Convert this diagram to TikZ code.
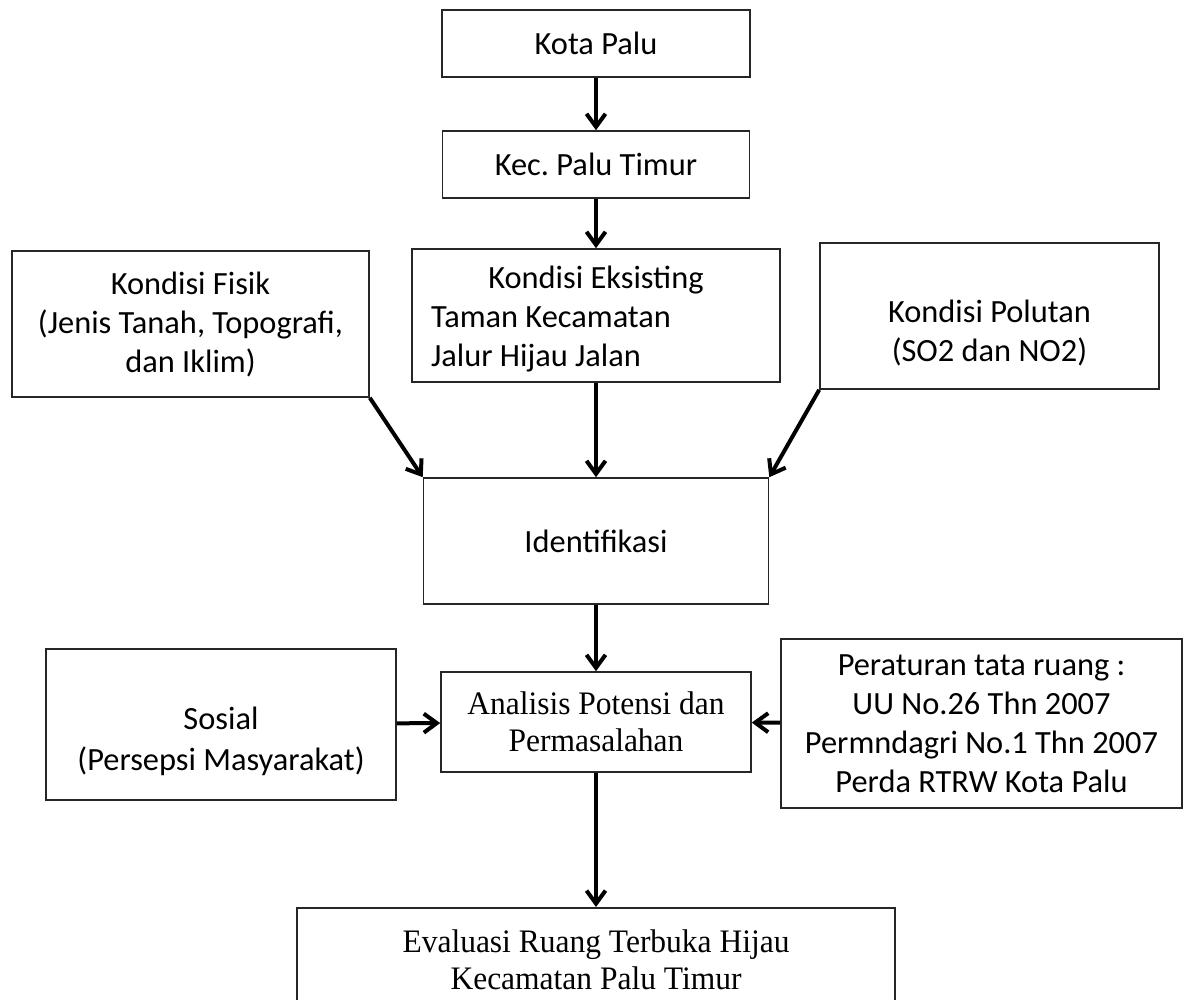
\documentclass[tikz,border=0pt]{standalone}
\usepackage{fontspec}
\setmainfont{Carlito}
\newfontfamily\timesfont[FakeStretch=0.96]{Liberation Serif}
\usetikzlibrary{arrows.meta}
\tikzset{
    kotak/.style={draw=black!85, line width=0.8pt, inner sep=0pt, align=center,
        font=\fontsize{16.2}{19.5}\selectfont},
    kotakserif/.style={kotak, font=\timesfont\fontsize{16.4}{18.5}\selectfont},
    panah/.style={-{Straight Barb[length=6.5pt,width=9.5pt]}, line width=2pt},
}

\begin{document}
\begin{tikzpicture}[x=0.5pt,y=-0.5pt]
    \clip (0,0) rectangle (1183,1000);
    \node[kotak, minimum width=154pt, minimum height=33.5pt] (kota) at (596,43.5) {Kota Palu};
    \node[kotak, minimum width=153.5pt, minimum height=33.5pt] (kec) at (596,164.5) {Kec.\ Palu Timur};
    \node[kotak, minimum width=184pt, minimum height=66.5pt, text width=165pt, align=flush left] (eksisting) at (596,315.5)
        {\rule{0pt}{15pt}\hspace*{\fill}Kondisi Eksisting\hspace*{\fill}\null\\Taman Kecamatan\\Jalur Hijau Jalan};
    \node[kotak, minimum width=178.5pt, minimum height=73pt] (fisik) at (190.5,324)
        {Kondisi Fisik\\(Jenis Tanah, Topografi,\\dan Iklim)};
    \node[kotak, minimum width=169.5pt, minimum height=73pt] (polutan) at (989.5,316)
        {\rule{0pt}{28pt}Kondisi Polutan\\(SO2 dan NO2)};
    \node[kotak, minimum width=172.5pt, minimum height=63pt] (ident) at (596,541) {Identifikasi};
    \node[kotakserif, minimum width=155pt, minimum height=50pt] (analisis) at (596,722)
        {Analisis Potensi dan\\Permasalahan};
    \node[kotak, minimum width=175pt, minimum height=75.5pt] (sosial) at (221,724.5)
        {\rule{0pt}{28pt}Sosial\\[1pt](Persepsi Masyarakat)};
    \node[kotak, minimum width=200.5pt, minimum height=84.5pt] (aturan) at (981.5,723.5)
        {Peraturan tata ruang :\\UU No.26 Thn 2007\\Permndagri No.1 Thn 2007\\Perda RTRW Kota Palu};
    \node[kotakserif, anchor=north, minimum width=299pt, minimum height=52pt] (evaluasi) at (596,907)
        {Evaluasi Ruang Terbuka Hijau\\Kecamatan Palu Timur};

    \draw[panah] (kota) -- (kec);
    \draw[panah] (kec) -- (eksisting);
    \draw[panah] (eksisting) -- (ident);
    \draw[panah] (fisik.south east) -- (ident.north west);
    \draw[panah] (polutan.south west) -- (ident.north east);
    \draw[panah] (ident) -- (analisis);
    \draw[panah] (sosial) -- (analisis);
    \draw[panah] (aturan) -- (analisis);
    \draw[panah] (analisis) -- (evaluasi);
\end{tikzpicture}
\end{document}
